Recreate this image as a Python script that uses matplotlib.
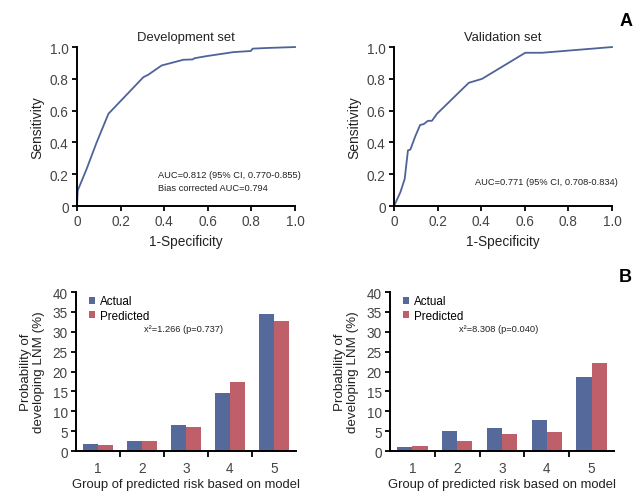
import numpy as np
import matplotlib
matplotlib.use('Agg')
from matplotlib import pyplot as plt

plt.rcParams['font.family'] = ['Liberation Sans', 'DejaVu Sans']

# ROC curves
dev_fpr = [0, 0.003, 0.044, 0.09, 0.144, 0.304, 0.327, 0.388, 0.488, 0.53, 0.54, 0.595,
           0.717, 0.797, 0.806, 0.87, 1.0]
dev_tpr = [0, 0.097, 0.233, 0.40, 0.58, 0.81, 0.826, 0.884, 0.92, 0.922, 0.93, 0.943,
           0.968, 0.975, 0.99, 0.994, 1.0]
val_fpr = [0, 0.029, 0.049, 0.064, 0.075, 0.098, 0.12, 0.136, 0.156, 0.174, 0.197, 0.343,
           0.404, 0.602, 0.679, 1.0]
val_tpr = [0, 0.086, 0.17, 0.35, 0.355, 0.44, 0.51, 0.515, 0.536, 0.536, 0.58, 0.775,
           0.80, 0.964, 0.964, 1.0]

# calibration bars
groups = [1, 2, 3, 4, 5]
dev_actual = [1.7, 2.6, 6.6, 14.5, 34.4]
dev_predicted = [1.4, 2.6, 6.1, 17.3, 32.7]
val_actual = [0.9, 5.0, 5.9, 7.9, 18.7]
val_predicted = [1.2, 2.4, 4.3, 4.9, 22.1]

roc_ticks = [0, 0.2, 0.4, 0.6, 0.8, 1.0]
roc_labels = ['0', '0.2', '0.4', '0.6', '0.8', '1.0']

line_color = '#4e6398'
blue = '#56699b'
red = '#be5f6a'
tick_color = '#444444'
text_color = '#222222'


def style_axes(ax):
    for s in ['top', 'right']:
        ax.spines[s].set_visible(False)
    for s in ['left', 'bottom']:
        ax.spines[s].set_linewidth(1.4)
    ax.tick_params(length=3.5, width=1.3, labelsize=9.8, labelcolor=tick_color, pad=2.5)


def roc_panel(ax, fpr, tpr, title, text):
    ax.plot(fpr, tpr, color=line_color, lw=1.3, clip_on=False)
    ax.set_xlim(0, 1)
    ax.set_ylim(0, 1)
    ax.set_xticks(roc_ticks)
    ax.set_xticklabels(roc_labels)
    ax.set_yticks(roc_ticks)
    ax.set_yticklabels(roc_labels)
    style_axes(ax)
    ax.set_title(title, fontsize=9.4, pad=5, color=text_color)
    ax.set_xlabel('1-Specificity', fontsize=9.8, labelpad=4, color=text_color)
    ax.set_ylabel('Sensitivity', fontsize=10, labelpad=4, color=text_color)
    ax.text(0.37, 0.157, text, fontsize=6.7, va='center', linespacing=1.6, color=text_color)


def bar_panel(ax, actual, predicted, text):
    x = np.array(groups)
    w = 0.34
    ax.bar(x - w / 2, actual, width=w, color=blue, label='Actual')
    ax.bar(x + w / 2, predicted, width=w, color=red, label='Predicted')
    ax.set_xlim(0.5, 5.5)
    ax.set_ylim(0, 40)
    ax.set_yticks(range(0, 41, 5))
    ax.set_xticks(groups)
    ax.set_xticks([1.5, 2.5, 3.5, 4.5], minor=True)
    style_axes(ax)
    ax.tick_params(axis='x', which='major', length=0, pad=7)
    ax.tick_params(axis='x', which='minor', length=4, width=1.3)
    ax.set_xlabel('Group of predicted risk based on model', fontsize=9.4, labelpad=2,
                  color=text_color)
    ax.set_ylabel('Probability of\ndeveloping LNM (%)', fontsize=9.6, labelpad=5,
                  color=text_color, linespacing=1.15)
    ax.text(2.05, 30.7, text, fontsize=6.7, va='center', color=text_color)
    ax.legend(loc='upper left', bbox_to_anchor=(0.02, 1.03), frameon=False, fontsize=8.4,
              handlelength=0.55, handleheight=0.55, handletextpad=0.4, labelspacing=0.2,
              borderaxespad=0.3)


fig = plt.figure(figsize=(6.44, 5.02), dpi=100)
ax1 = fig.add_axes([0.1196, 0.5876, 0.3385, 0.3167])
ax2 = fig.add_axes([0.6118, 0.5876, 0.3385, 0.3167])
ax3 = fig.add_axes([0.118, 0.0996, 0.3416, 0.3167])
ax4 = fig.add_axes([0.6056, 0.0996, 0.3478, 0.3167])

roc_panel(ax1, dev_fpr, dev_tpr, 'Development set',
          'AUC=0.812 (95% CI, 0.770-0.855)\nBias corrected AUC=0.794')
roc_panel(ax2, val_fpr, val_tpr, 'Validation set', 'AUC=0.771 (95% CI, 0.708-0.834)')
bar_panel(ax3, dev_actual, dev_predicted, 'x\u00b2=1.266 (p=0.737)')
bar_panel(ax4, val_actual, val_predicted, 'x\u00b2=8.308 (p=0.040)')

fig.text(626 / 644, 1 - 21 / 502, 'A', fontsize=13, fontweight='bold', ha='center', va='center')
fig.text(625 / 644, 1 - 278 / 502, 'B', fontsize=13, fontweight='bold', ha='center', va='center')

plt.savefig('out.png', dpi=100)
